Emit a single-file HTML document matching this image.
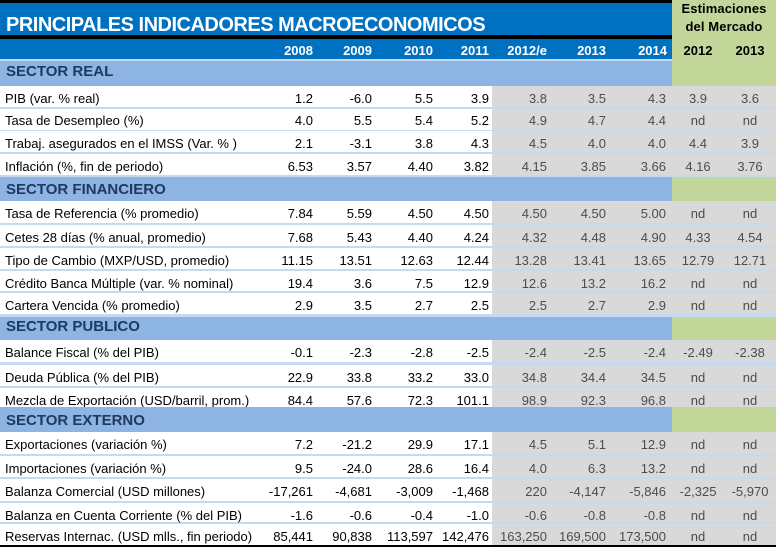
<!DOCTYPE html>
<html>
<head>
<meta charset="utf-8">
<style>
  html,body{margin:0;padding:0;}
  body{width:776px;height:547px;position:relative;overflow:hidden;background:#c5d9f1;
       font-family:"Liberation Sans",Arial,sans-serif;}
  .abs{position:absolute;}
  .row{position:absolute;left:0;width:776px;background:linear-gradient(to right,#ffffff 0,#ffffff 492px,#d9d9d9 492px,#d9d9d9 776px);}
  .sec{position:absolute;left:0;width:776px;background:linear-gradient(to right,#8db4e2 0,#8db4e2 672px,#c4d79b 672px,#c4d79b 776px);}
  .row span{position:absolute;top:2.8px;line-height:20px;font-size:13px;white-space:nowrap;color:#000;}
  .row .l{left:5px;}
  .row .c1{right:463px;}
  .row .c2{right:404px;}
  .row .c3{right:343px;}
  .row .c4{right:287px;}
  .row .c5{right:229px;color:#4d4d4d;}
  .row .c6{right:170px;color:#4d4d4d;}
  .row .c7{right:110px;color:#4d4d4d;}
  .row .c8{left:672px;width:52px;text-align:center;color:#4d4d4d;}
  .row .c9{left:724px;width:52px;text-align:center;color:#4d4d4d;}
  .sec span{position:absolute;left:6px;line-height:20px;font-size:15px;font-weight:bold;color:#1f3a60;white-space:nowrap;}
  .yr{position:absolute;top:40.5px;line-height:20px;font-size:13px;font-weight:bold;color:#fff;white-space:nowrap;}
  .yg{position:absolute;top:40.5px;line-height:20px;font-size:13px;font-weight:bold;color:#000;width:52px;text-align:center;}
</style>
</head>
<body>
<!-- header -->
<div class="abs" style="left:0;top:0;width:672px;height:3px;background:#000;"></div>
<div class="abs" style="left:0;top:3px;width:672px;height:32px;background:#0070c0;"></div>
<div class="abs" style="left:0;top:35px;width:672px;height:3.5px;background:#000;"></div>
<div class="abs" style="left:0;top:38.5px;width:672px;height:20.5px;background:#0070c0;"></div>
<div class="abs" style="left:672px;top:0;width:104px;height:86px;background:#c4d79b;"></div>

<div class="abs" style="left:6px;top:8.8px;line-height:32px;font-size:20px;font-weight:bold;color:#fff;letter-spacing:-0.5px;white-space:nowrap;">PRINCIPALES INDICADORES MACROECONOMICOS</div>

<div class="abs" style="left:672px;top:-1.5px;width:104px;text-align:center;line-height:20px;font-size:13px;font-weight:bold;color:#000;letter-spacing:0.1px;">Estimaciones</div>
<div class="abs" style="left:672px;top:17.2px;width:104px;text-align:center;line-height:20px;font-size:13px;font-weight:bold;color:#000;letter-spacing:0.1px;">del Mercado</div>

<div class="yr" style="right:463px;">2008</div>
<div class="yr" style="right:404px;">2009</div>
<div class="yr" style="right:343px;">2010</div>
<div class="yr" style="right:287px;">2011</div>
<div class="yr" style="right:229px;">2012/e</div>
<div class="yr" style="right:170px;">2013</div>
<div class="yr" style="right:109px;">2014</div>
<div class="yg" style="left:672px;">2012</div>
<div class="yg" style="left:724px;">2013</div>

<!-- SECTOR REAL -->
<div class="sec" style="top:61px;height:25px;"><span style="top:1.3px;">SECTOR REAL</span></div>

<div class="row" style="top:86px;height:20.5px;"><span class="l">PIB (var. % real)</span><span class="c1">1.2</span><span class="c2">-6.0</span><span class="c3">5.5</span><span class="c4">3.9</span><span class="c5">3.8</span><span class="c6">3.5</span><span class="c7">4.3</span><span class="c8">3.9</span><span class="c9">3.6</span></div>
<div class="row" style="top:108.5px;height:21px;"><span class="l">Tasa de Desempleo (%)</span><span class="c1">4.0</span><span class="c2">5.5</span><span class="c3">5.4</span><span class="c4">5.2</span><span class="c5">4.9</span><span class="c6">4.7</span><span class="c7">4.4</span><span class="c8">nd</span><span class="c9">nd</span></div>
<div class="row" style="top:131px;height:21px;"><span class="l">Trabaj. asegurados en el IMSS (Var. % )</span><span class="c1">2.1</span><span class="c2">-3.1</span><span class="c3">3.8</span><span class="c4">4.3</span><span class="c5">4.5</span><span class="c6">4.0</span><span class="c7">4.0</span><span class="c8">4.4</span><span class="c9">3.9</span></div>
<div class="row" style="top:154px;height:21px;"><span class="l">Inflación (%, fin de periodo)</span><span class="c1">6.53</span><span class="c2">3.57</span><span class="c3">4.40</span><span class="c4">3.82</span><span class="c5">4.15</span><span class="c6">3.85</span><span class="c7">3.66</span><span class="c8">4.16</span><span class="c9">3.76</span></div>

<!-- SECTOR FINANCIERO -->
<div class="sec" style="top:177px;height:24px;"><span style="top:2.8px;">SECTOR FINANCIERO</span></div>

<div class="row" style="top:201px;height:22px;"><span class="l">Tasa de Referencia (% promedio)</span><span class="c1">7.84</span><span class="c2">5.59</span><span class="c3">4.50</span><span class="c4">4.50</span><span class="c5">4.50</span><span class="c6">4.50</span><span class="c7">5.00</span><span class="c8">nd</span><span class="c9">nd</span></div>
<div class="row" style="top:225px;height:20.5px;"><span class="l">Cetes 28 días (% anual, promedio)</span><span class="c1">7.68</span><span class="c2">5.43</span><span class="c3">4.40</span><span class="c4">4.24</span><span class="c5">4.32</span><span class="c6">4.48</span><span class="c7">4.90</span><span class="c8">4.33</span><span class="c9">4.54</span></div>
<div class="row" style="top:248px;height:20.5px;"><span class="l">Tipo de Cambio (MXP/USD, promedio)</span><span class="c1">11.15</span><span class="c2">13.51</span><span class="c3">12.63</span><span class="c4">12.44</span><span class="c5">13.28</span><span class="c6">13.41</span><span class="c7">13.65</span><span class="c8">12.79</span><span class="c9">12.71</span></div>
<div class="row" style="top:271px;height:20px;"><span class="l">Crédito Banca Múltiple (var. % nominal)</span><span class="c1">19.4</span><span class="c2">3.6</span><span class="c3">7.5</span><span class="c4">12.9</span><span class="c5">12.6</span><span class="c6">13.2</span><span class="c7">16.2</span><span class="c8">nd</span><span class="c9">nd</span></div>
<div class="row" style="top:293px;height:21px;"><span class="l">Cartera Vencida (% promedio)</span><span class="c1">2.9</span><span class="c2">3.5</span><span class="c3">2.7</span><span class="c4">2.5</span><span class="c5">2.5</span><span class="c6">2.7</span><span class="c7">2.9</span><span class="c8">nd</span><span class="c9">nd</span></div>

<!-- SECTOR PUBLICO -->
<div class="sec" style="top:317px;height:23px;"><span style="top:0.3px;">SECTOR PUBLICO</span></div>

<div class="row" style="top:340px;height:22px;"><span class="l">Balance Fiscal (% del PIB)</span><span class="c1">-0.1</span><span class="c2">-2.3</span><span class="c3">-2.8</span><span class="c4">-2.5</span><span class="c5">-2.4</span><span class="c6">-2.5</span><span class="c7">-2.4</span><span class="c8">-2.49</span><span class="c9">-2.38</span></div>
<div class="row" style="top:365px;height:20.5px;"><span class="l">Deuda Pública (% del PIB)</span><span class="c1">22.9</span><span class="c2">33.8</span><span class="c3">33.2</span><span class="c4">33.0</span><span class="c5">34.8</span><span class="c6">34.4</span><span class="c7">34.5</span><span class="c8">nd</span><span class="c9">nd</span></div>
<div class="row" style="top:388px;height:19px;"><span class="l">Mezcla de Exportación (USD/barril, prom.)</span><span class="c1">84.4</span><span class="c2">57.6</span><span class="c3">72.3</span><span class="c4">101.1</span><span class="c5">98.9</span><span class="c6">92.3</span><span class="c7">96.8</span><span class="c8">nd</span><span class="c9">nd</span></div>

<!-- SECTOR EXTERNO -->
<div class="sec" style="top:407px;height:25px;"><span style="top:3.8px;">SECTOR EXTERNO</span></div>

<div class="row" style="top:432px;height:21.5px;"><span class="l">Exportaciones (variación %)</span><span class="c1">7.2</span><span class="c2">-21.2</span><span class="c3">29.9</span><span class="c4">17.1</span><span class="c5">4.5</span><span class="c6">5.1</span><span class="c7">12.9</span><span class="c8">nd</span><span class="c9">nd</span></div>
<div class="row" style="top:456px;height:21px;"><span class="l">Importaciones (variación %)</span><span class="c1">9.5</span><span class="c2">-24.0</span><span class="c3">28.6</span><span class="c4">16.4</span><span class="c5">4.0</span><span class="c6">6.3</span><span class="c7">13.2</span><span class="c8">nd</span><span class="c9">nd</span></div>
<div class="row" style="top:479px;height:22px;"><span class="l">Balanza Comercial (USD millones)</span><span class="c1">-17,261</span><span class="c2">-4,681</span><span class="c3">-3,009</span><span class="c4">-1,468</span><span class="c5">220</span><span class="c6">-4,147</span><span class="c7">-5,846</span><span class="c8">-2,325</span><span class="c9">-5,970</span></div>
<div class="row" style="top:503px;height:19px;"><span class="l">Balanza en Cuenta Corriente (% del PIB)</span><span class="c1">-1.6</span><span class="c2">-0.6</span><span class="c3">-0.4</span><span class="c4">-1.0</span><span class="c5">-0.6</span><span class="c6">-0.8</span><span class="c7">-0.8</span><span class="c8">nd</span><span class="c9">nd</span></div>
<div class="row" style="top:524px;height:21px;"><span class="l">Reservas Internac. (USD mlls., fin periodo)</span><span class="c1">85,441</span><span class="c2">90,838</span><span class="c3">113,597</span><span class="c4">142,476</span><span class="c5">163,250</span><span class="c6">169,500</span><span class="c7">173,500</span><span class="c8">nd</span><span class="c9">nd</span></div>

<div class="abs" style="left:0;top:545px;width:776px;height:2px;background:#000;"></div>
</body>
</html>
